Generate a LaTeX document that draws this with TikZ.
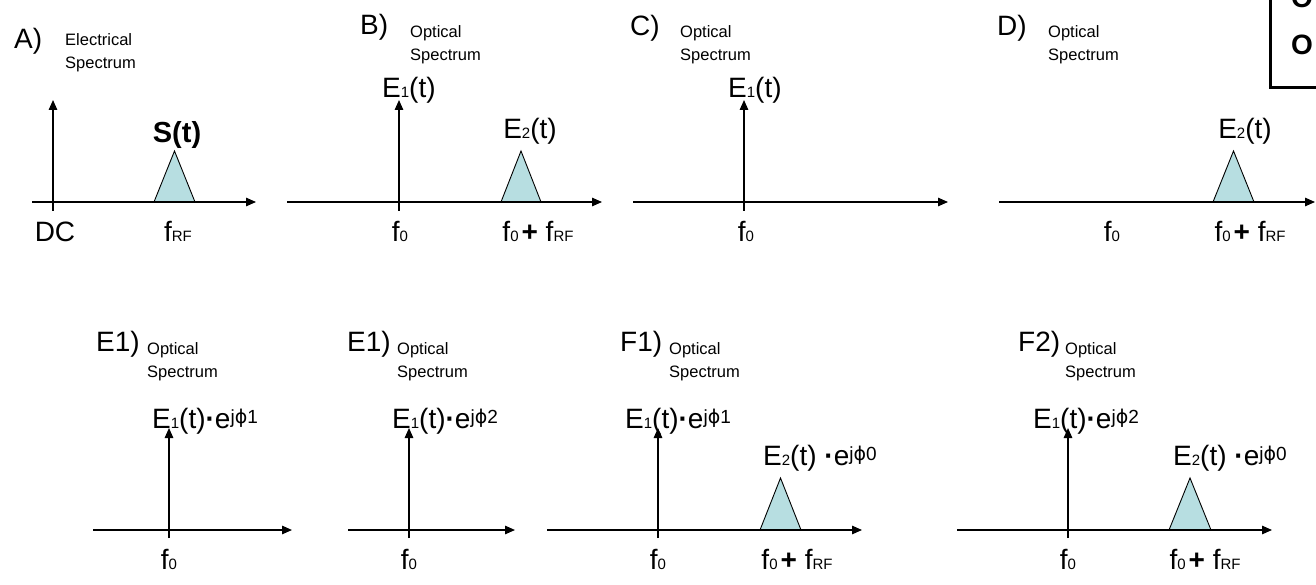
\documentclass[tikz,border=0pt]{standalone}
\usepackage{fontspec}
\setmainfont{Liberation Sans}
\newfontfamily\dejavu{DejaVu Sans}
\usetikzlibrary{arrows.meta}
\definecolor{peakfill}{RGB}{183,222,225}
\newcommand{\sm}[1]{{\fontsize{15}{15}\selectfont #1}}
\newcommand{\phisup}[1]{\raisebox{5pt}{\fontsize{19}{19}\selectfont j{\dejavu ϕ}#1}}
\newcommand{\dotop}{{\bfseries ·}}
\newcommand{\fsum}{f\sm{0}\hspace{3pt}{\bfseries +} f\sm{RF}}
\newcommand{\haxis}[4]{\coordinate (#1a) at (#2,#4); \coordinate (#1b) at (#3,#4); \draw[ax] (#1a) -- (#1b);}
\newcommand{\vaxis}[4]{\coordinate (#1a) at (#2,#3); \coordinate (#1b) at (#2,#4); \draw[ax] (#1a) -- (#1b);}
\newcommand{\peak}[5]{\coordinate (#1l) at (#2,#4); \coordinate (#1r) at (#3,#4); \coordinate (#1t) at ({(#2+#3)/2},#5); \filldraw[tri] (#1l) -- (#1t) -- (#1r) -- cycle;}
\tikzset{
  ax/.style={line width=1.4pt, -{Triangle[length=10pt,width=8.5pt]}},
  tri/.style={draw=black, line width=0.9pt, fill=peakfill},
  lab/.style={font=\fontsize{28}{28}\selectfont, inner sep=0pt},
  ttl/.style={font=\fontsize{28}{28}\selectfont, inner sep=0pt, anchor=base west},
  small/.style={font=\fontsize{16.5}{16.5}\selectfont, inner sep=0pt, anchor=base west},
  boxtxt/.style={font=\bfseries\fontsize{28}{28}\selectfont, inner sep=0pt, anchor=base west},
}
\begin{document}
\begin{tikzpicture}[x=1pt,y=-1pt]
\useasboundingbox (0,0) rectangle (1316,585);
\clip (0,0) rectangle (1316,585);
% ---------- top-right box (cut off) ----------
\coordinate (bx0) at (1270,-10);
\coordinate (bx1) at (1270,88);
\coordinate (bx2) at (1330,88);
\draw[line width=3pt] (bx0) -- (bx1) -- (bx2);
\node[boxtxt] (boxA) at (1291,8) {O};
\node[boxtxt] (boxB) at (1291,55) {O};
% ---------- A ----------
\peak{pA}{154}{195}{202}{151}
\haxis{hA}{32}{256}{202}
\vaxis{vA}{53}{211}{100}
\node[ttl] (tA) at (14,49) {A)};
\node[small] (oA1) at (65,46) {Electrical};
\node[small] (oA2) at (65,69) {Spectrum};
\node[lab, anchor=base, font=\bfseries\fontsize{29}{29}\selectfont] (sA) at (177,143) {S(t)};
\node[lab, anchor=base] (dcA) at (55,241) {DC};
\node[lab, anchor=base] (frA) at (178,241) {f\sm{RF}};
% ---------- B ----------
\peak{pB}{501}{541}{202}{151}
\haxis{hB}{287}{602}{202}
\vaxis{vB}{399}{211}{100}
\node[ttl] (tB) at (360,35) {B)};
\node[small] (oB1) at (410,38) {Optical};
\node[small] (oB2) at (410,61) {Spectrum};
\node[lab, anchor=base west] (e1B) at (382,98) {E\sm{1}(t)};
\node[lab, anchor=base] (e2B) at (530,139) {E\sm{2}(t)};
\node[lab, anchor=base] (f0B) at (400,241) {f\sm{0}};
\node[lab, anchor=base] (fsB) at (538,241) {\fsum};
% ---------- C ----------
\haxis{hC}{633}{948}{202}
\vaxis{vC}{744}{211}{100}
\node[ttl] (tC) at (630,36) {C)};
\node[small] (oC1) at (680,38) {Optical};
\node[small] (oC2) at (680,61) {Spectrum};
\node[lab, anchor=base west] (e1C) at (728,98) {E\sm{1}(t)};
\node[lab, anchor=base] (f0C) at (746,241) {f\sm{0}};
% ---------- D ----------
\peak{pD}{1213}{1254}{202}{151}
\haxis{hD}{999}{1315}{202}
\node[ttl] (tD) at (997,36) {D)};
\node[small] (oD1) at (1048,38) {Optical};
\node[small] (oD2) at (1048,61) {Spectrum};
\node[lab, anchor=base] (e2D) at (1245,139) {E\sm{2}(t)};
\node[lab, anchor=base] (f0D) at (1112,241) {f\sm{0}};
\node[lab, anchor=base] (fsD) at (1250,241) {\fsum};
% ---------- E1 (first) ----------
\haxis{hE}{93}{292}{530}
\vaxis{vE}{169}{538}{428}
\node[ttl] (tE) at (96,351) {E1)};
\node[small] (oE1) at (147,354) {Optical};
\node[small] (oE2) at (147,377) {Spectrum};
\node[lab, anchor=base west] (e1E) at (152,428) {E\sm{1}(t)\dotop e\phisup{1}};
\node[lab, anchor=base] (f0E) at (169,569) {f\sm{0}};
% ---------- E1 (second) ----------
\haxis{hG}{348}{515}{530}
\vaxis{vG}{409}{538}{428}
\node[ttl] (tG) at (347,351) {E1)};
\node[small] (oG1) at (397,354) {Optical};
\node[small] (oG2) at (397,377) {Spectrum};
\node[lab, anchor=base west] (e1G) at (392,428) {E\sm{1}(t)\dotop e\phisup{2}};
\node[lab, anchor=base] (f0G) at (409,569) {f\sm{0}};
% ---------- F1 ----------
\peak{pF}{760}{801}{530}{478}
\haxis{hF}{547}{862}{530}
\vaxis{vF}{658}{538}{428}
\node[ttl] (tF) at (620,351) {F1)};
\node[small] (oF1) at (669,354) {Optical};
\node[small] (oF2) at (669,377) {Spectrum};
\node[lab, anchor=base west] (e1F) at (625,428) {E\sm{1}(t)\dotop e\phisup{1}};
\node[lab, anchor=base west] (e2F) at (763,465) {E\sm{2}(t) \dotop e\phisup{0}};
\node[lab, anchor=base] (f0F) at (658,569) {f\sm{0}};
\node[lab, anchor=base] (fsF) at (797,569) {\fsum};
% ---------- F2 ----------
\peak{pH}{1169}{1211}{530}{478}
\haxis{hH}{957}{1272}{530}
\vaxis{vH}{1068}{538}{428}
\node[ttl] (tH) at (1018,351) {F2)};
\node[small] (oH1) at (1065,354) {Optical};
\node[small] (oH2) at (1065,377) {Spectrum};
\node[lab, anchor=base west] (e1H) at (1033,428) {E\sm{1}(t)\dotop e\phisup{2}};
\node[lab, anchor=base west] (e2H) at (1173,465) {E\sm{2}(t) \dotop e\phisup{0}};
\node[lab, anchor=base] (f0H) at (1068,569) {f\sm{0}};
\node[lab, anchor=base] (fsH) at (1205,569) {\fsum};
\end{tikzpicture}
\end{document}
